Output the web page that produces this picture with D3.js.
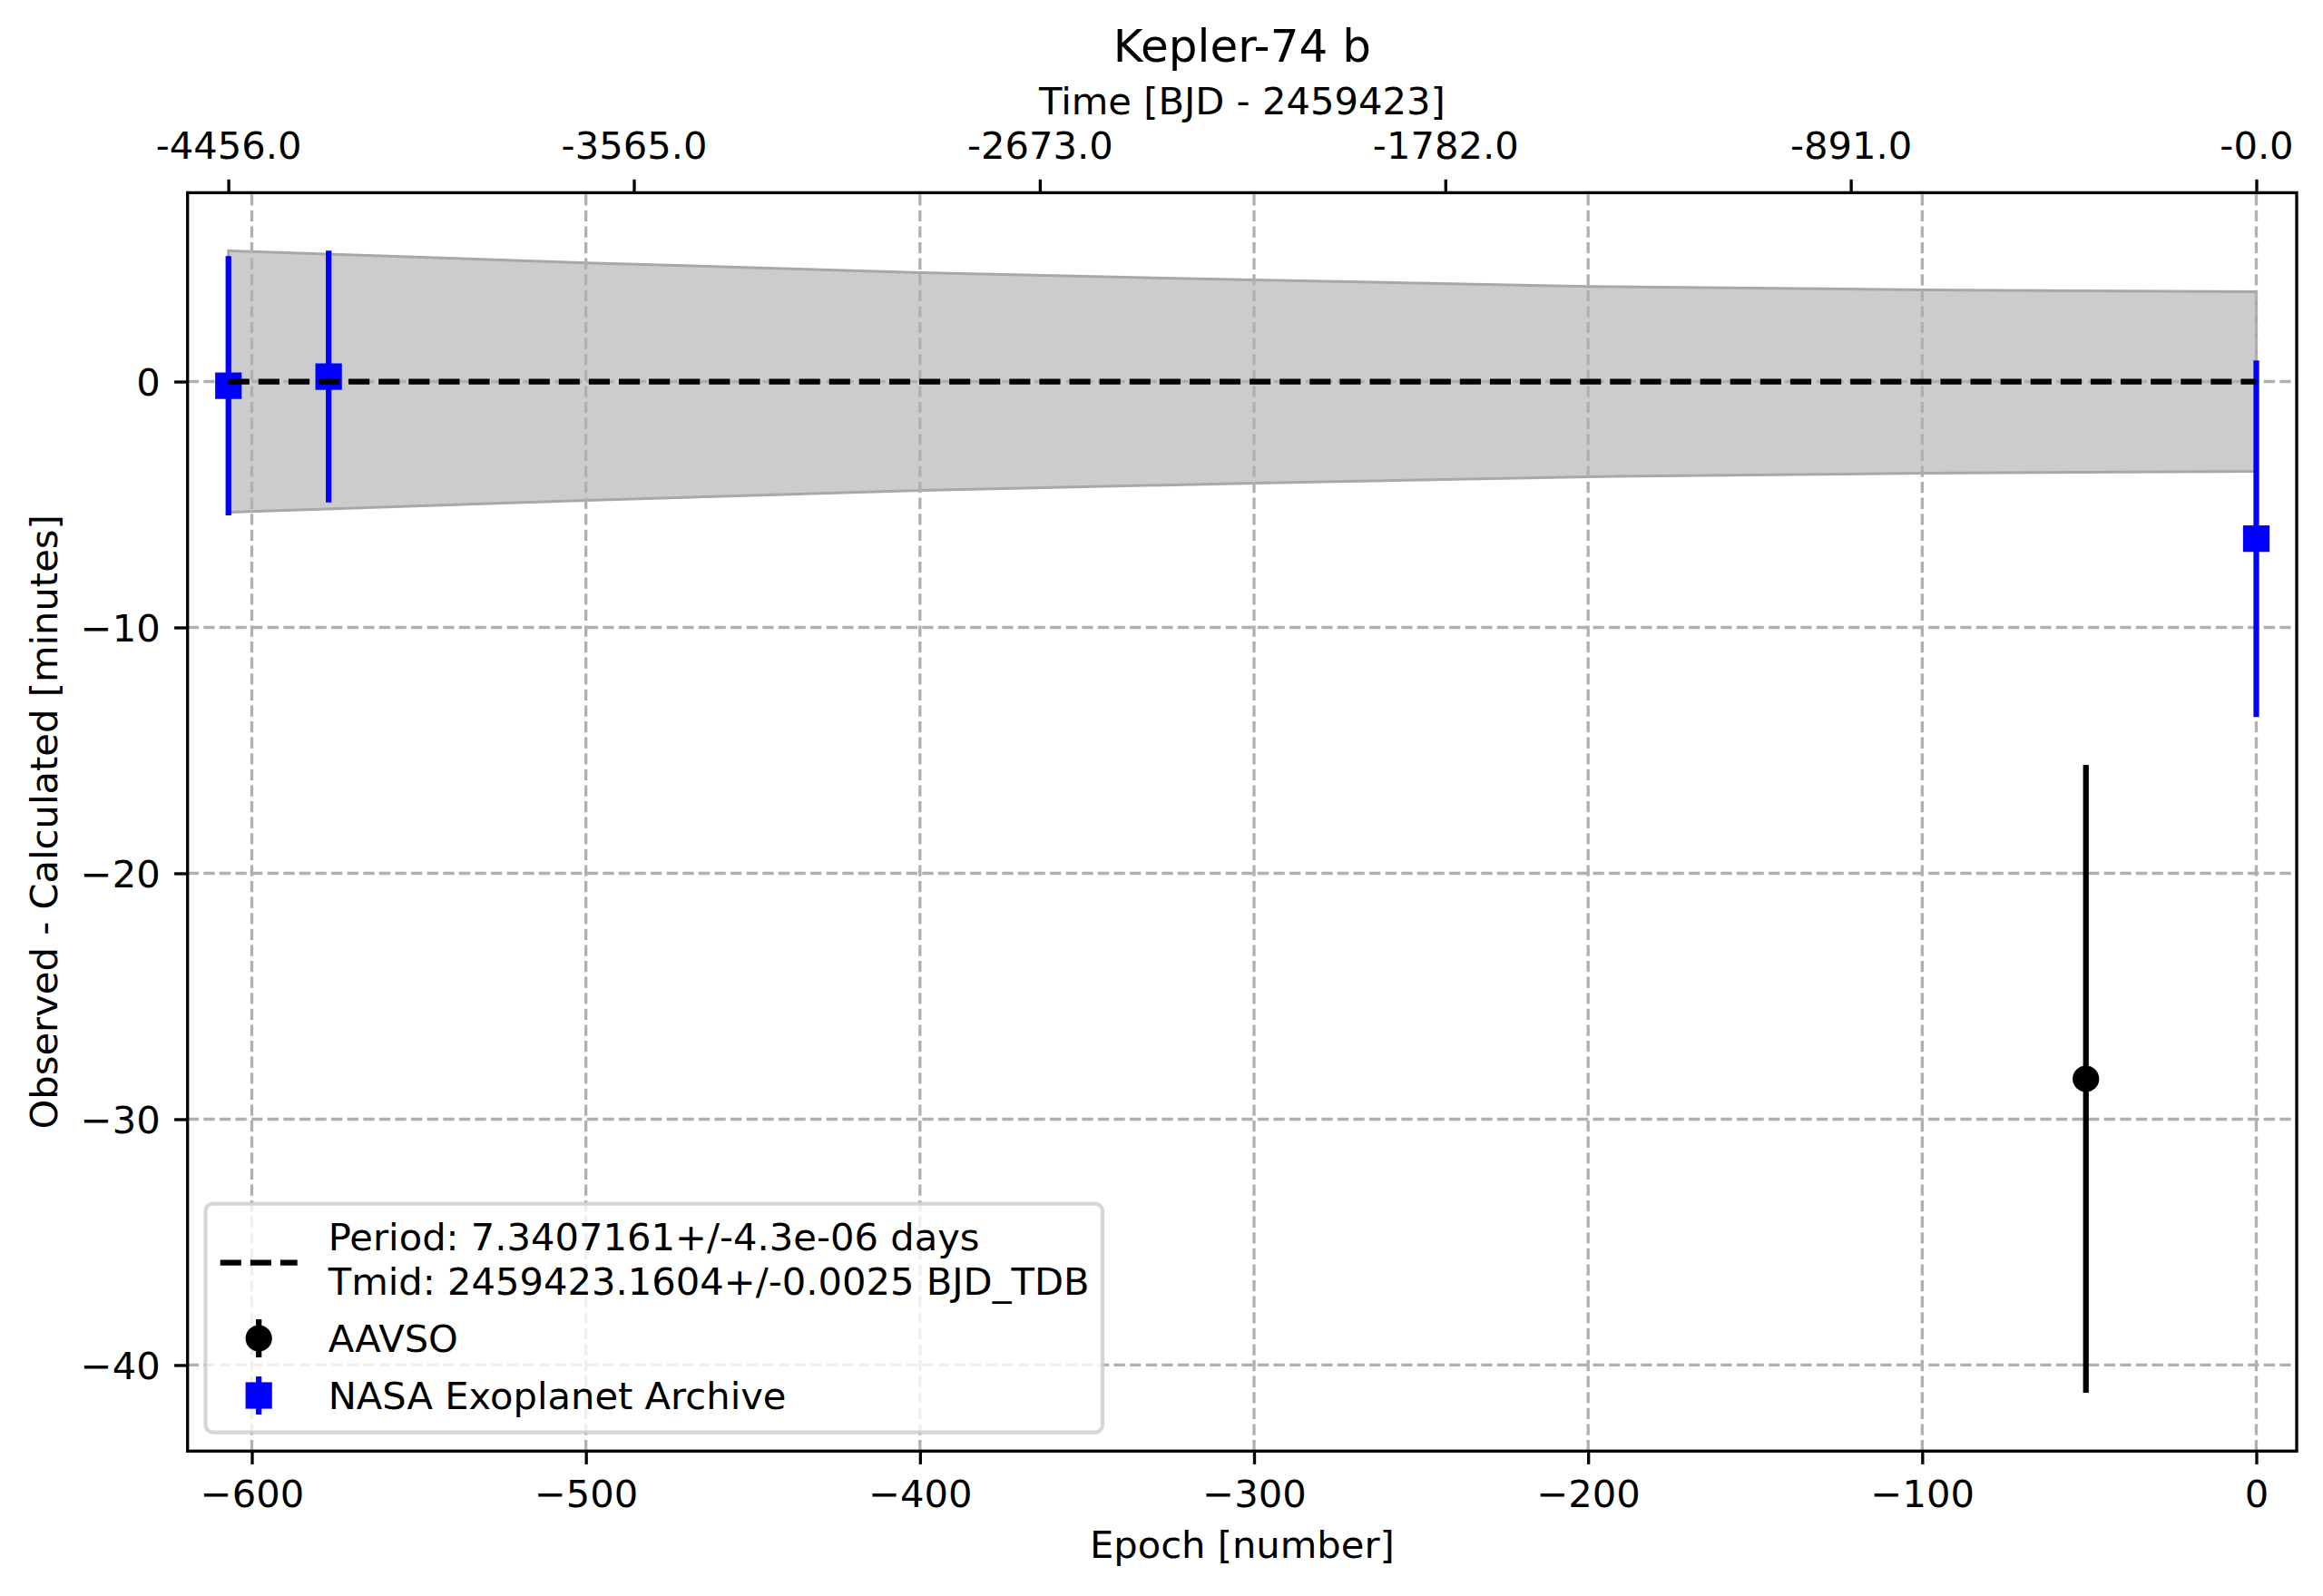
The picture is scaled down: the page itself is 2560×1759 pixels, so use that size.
<!DOCTYPE html>
<html>
<head>
<meta charset="utf-8">
<title>Kepler-74 b O-C</title>
<script src="https://d3js.org/d3.v7.min.js"></script>
<style>
  body { margin: 0; background: #fff; }
  svg { display: block; font-family: "DejaVu Sans", sans-serif; }
  .tick text { font-size: 41.67px; fill: #000; font-family: "DejaVu Sans", sans-serif; }
  .tick line { stroke: #000; stroke-width: 3.33px; }
  .grid line { stroke: #b0b0b0; stroke-width: 3.33px; stroke-dasharray: 12.3 5.3; }
</style>
</head>
<body>
<svg width="2560" height="1759"></svg>
<script>
// ephemeris
const period = 7.3407161;
const periodText = "Period: 7.3407161+/-4.3e-06 days";
const tmidText = "Tmid: 2459423.1604+/-0.0025 BJD_TDB";

// NASA Exoplanet Archive transits
const nasaEpoch = [-607, -577, 0];
const nasaOC = [-0.17, 0.2, -6.39];
const nasaErr = [5.27, 5.12, 7.25];

// AAVSO transits
const aavsoEpoch = [-51];
const aavsoOC = [-28.36];
const aavsoErr = [12.77];

// ephemeris uncertainty band (half-width, minutes)
const bandEpoch = [-607, -500, -400, -300, -200, -100, 0];
const bandHalf = [5.32, 4.83, 4.43, 4.13, 3.87, 3.73, 3.65];

// ticks
const epochTicks = [-600, -500, -400, -300, -200, -100, 0];
const ocTicks = [0, -10, -20, -30, -40];
const timeTicks = [-4456, -3565, -2673, -1782, -891, -0];
const timeLabels = ["-4456.0", "-3565.0", "-2673.0", "-1782.0", "-891.0", "-0.0"];

const L = 206.7, R = 2531, T = 212.4, B = 1599.3;
const svg = d3.select("svg");

const x = d3.scaleLinear().domain([-619.23, 12.09]).range([L, R]);
const y = d3.scaleLinear().domain([-43.5, 7.68]).range([B, T]);

// band
const band = bandEpoch.map((e, i) => ({e, h: bandHalf[i]}));
svg.append("path")
  .datum(band)
  .attr("d", d3.area().x(d => x(d.e)).y0(d => y(-d.h)).y1(d => y(d.h)))
  .attr("fill", "#cccccc")
  .attr("stroke", "#a8a8a8")
  .attr("stroke-width", 3);

// grid
const grid = svg.append("g").attr("class", "grid");
grid.selectAll(".gx").data(epochTicks).join("line")
  .attr("x1", d => x(d)).attr("x2", d => x(d))
  .attr("y1", B).attr("y2", T);
grid.selectAll(".gy").data(ocTicks).join("line")
  .attr("y1", d => y(d)).attr("y2", d => y(d))
  .attr("x1", L).attr("x2", R);

// error bars
function errorbars(ep, oc, err, color, shape) {
  const g = svg.append("g");
  const pts = ep.map((e, i) => ({e, v: oc[i], s: err[i]}));
  g.selectAll("line").data(pts).join("line")
    .attr("x1", d => x(d.e)).attr("x2", d => x(d.e))
    .attr("y1", d => y(d.v + d.s)).attr("y2", d => y(d.v - d.s))
    .attr("stroke", color).attr("stroke-width", 6.25);
  if (shape === "square") {
    g.selectAll("rect").data(pts).join("rect")
      .attr("x", d => x(d.e) - 14.6).attr("y", d => y(d.v) - 14.6)
      .attr("width", 29.2).attr("height", 29.2)
      .attr("fill", color);
  } else {
    g.selectAll("circle").data(pts).join("circle")
      .attr("cx", d => x(d.e)).attr("cy", d => y(d.v))
      .attr("r", 14.6).attr("fill", color);
  }
}
errorbars(aavsoEpoch, aavsoOC, aavsoErr, "#000", "circle");
errorbars(nasaEpoch, nasaOC, nasaErr, "#0000ff", "square");

// linear ephemeris (O-C = 0)
const allEpoch = nasaEpoch.concat(aavsoEpoch);
const ext = d3.extent(allEpoch);
svg.append("line")
  .attr("x1", x(ext[0])).attr("x2", x(ext[1]))
  .attr("y1", y(0)).attr("y2", y(0))
  .attr("stroke", "#000").attr("stroke-width", 6.25)
  .attr("stroke-dasharray", "23.1 10");

// spines
svg.append("rect")
  .attr("x", L).attr("y", T).attr("width", R - L).attr("height", B - T)
  .attr("fill", "none").attr("stroke", "#000").attr("stroke-width", 3.33);

// axes
const tk = 14.6;
function clean(g) {
  g.attr("font-family", null).attr("font-size", null);
  g.select(".domain").remove();
}
svg.append("g").attr("transform", `translate(0,${B})`)
  .call(d3.axisBottom(x).tickValues(epochTicks).tickSize(tk).tickFormat(d3.format("d")))
  .call(clean)
  .call(g => g.selectAll("text").attr("y", 61.7).attr("dy", null));

svg.append("g").attr("transform", `translate(${L},0)`)
  .call(d3.axisLeft(y).tickValues(ocTicks).tickSize(tk).tickFormat(d3.format("d")))
  .call(clean)
  .call(g => g.selectAll("text").attr("x", -30).attr("dy", "0.36em"));

svg.append("g").attr("transform", `translate(0,${T})`)
  .call(d3.axisTop(x).tickValues(timeTicks.map(t => t / period)).tickSize(tk)
    .tickFormat((d, i) => timeLabels[i]))
  .call(clean)
  .call(g => g.selectAll("text").attr("y", -37.4).attr("dy", null));

// labels
const cx = (L + R) / 2;
svg.append("text").attr("x", cx).attr("y", 68).attr("text-anchor", "middle")
  .attr("font-size", "50px").text("Kepler-74 b");
svg.append("text").attr("x", cx).attr("y", 126).attr("text-anchor", "middle")
  .attr("font-size", "41.67px").text("Time [BJD - 2459423]");
svg.append("text").attr("x", cx).attr("y", 1717).attr("text-anchor", "middle")
  .attr("font-size", "41.67px").text("Epoch [number]");
svg.append("text")
  .attr("transform", `translate(63,${(T + B) / 2}) rotate(-90)`)
  .attr("text-anchor", "middle")
  .attr("font-size", "41.67px").text("Observed - Calculated [minutes]");

// legend
const lg = svg.append("g");
lg.append("rect")
  .attr("x", 226.5).attr("y", 1326.6).attr("width", 988.5).attr("height", 252)
  .attr("rx", 8).attr("ry", 8)
  .attr("fill", "#fff").attr("fill-opacity", 0.8)
  .attr("stroke", "#cccccc").attr("stroke-opacity", 0.8).attr("stroke-width", 4.17);
const hx0 = 242.7, hx1 = 327.7, hc = (hx0 + hx1) / 2, tx = 361.7;
lg.append("line").attr("x1", hx0).attr("x2", hx1).attr("y1", 1391.7).attr("y2", 1391.7)
  .attr("stroke", "#000").attr("stroke-width", 6.25).attr("stroke-dasharray", "23.1 10");
lg.append("line").attr("x1", hc).attr("x2", hc).attr("y1", 1454).attr("y2", 1496)
  .attr("stroke", "#000").attr("stroke-width", 6.25);
lg.append("circle").attr("cx", hc).attr("cy", 1475).attr("r", 14.6).attr("fill", "#000");
lg.append("line").attr("x1", hc).attr("x2", hc).attr("y1", 1517).attr("y2", 1559)
  .attr("stroke", "#0000ff").attr("stroke-width", 6.25);
lg.append("rect").attr("x", hc - 14.6).attr("y", 1538 - 14.6).attr("width", 29.2).attr("height", 29.2)
  .attr("fill", "#0000ff");
const legendText = [[periodText, 1378], [tmidText, 1427], ["AAVSO", 1489.5], ["NASA Exoplanet Archive", 1553]];
lg.selectAll("text.lt").data(legendText).join("text")
  .attr("class", "lt")
  .attr("x", tx).attr("y", d => d[1])
  .attr("font-size", "41.67px").text(d => d[0]);
</script>
</body>
</html>
